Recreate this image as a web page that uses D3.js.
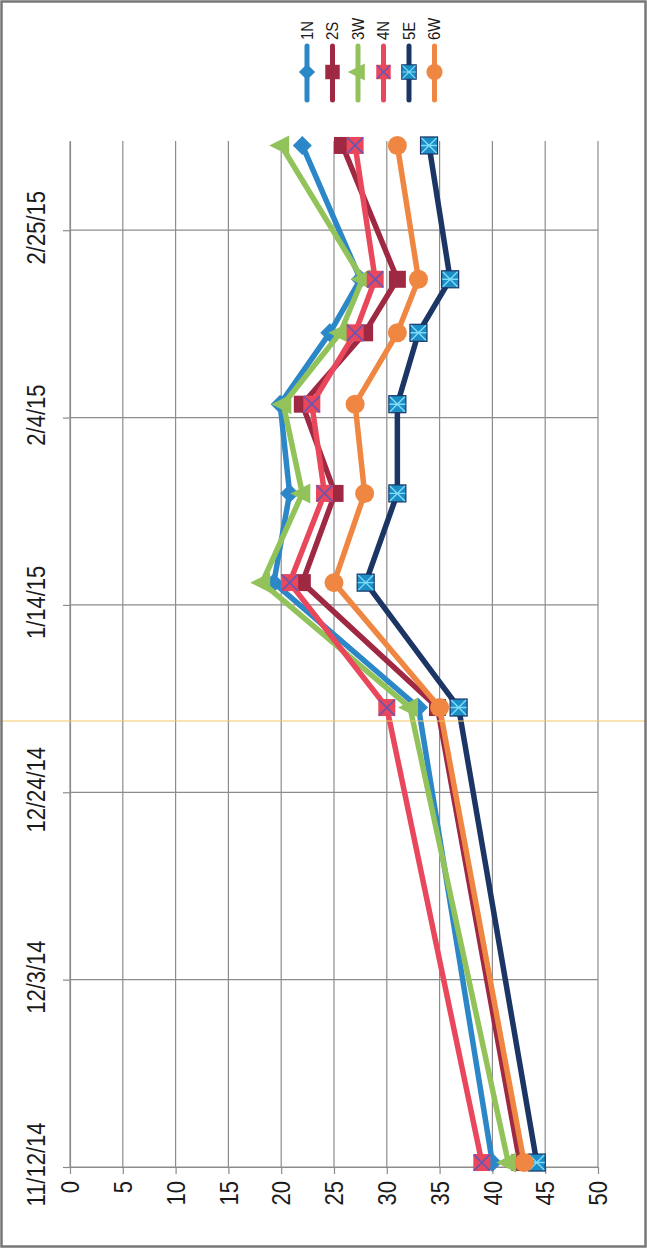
<!DOCTYPE html>
<html>
<head>
<meta charset="utf-8">
<script src="https://cdn.jsdelivr.net/npm/d3@7"></script>
<style>
  body { margin: 0; background: #fff; }
  svg { display: block; }
  text { font-family: "Liberation Sans", Arial, sans-serif; fill: #1a1a1a; }
</style>
</head>
<body>
<div id="graph"></div>
<script>
//sample dates and series values
const sampleDates = ["11/12/14", "1/2/15", "1/16/15", "1/26/15", "2/5/15", "2/13/15", "2/19/15", "3/6/15"];
const series1N = [40, 33, 19.3, 20.8, 19.9, 24.6, 27.5, 22];
const series2S = [42.6, 34.8, 22, 25.1, 22, 27.9, 31, 25.8];
const series3W = [41.5, 32.2, 18.2, 22, 20.2, 25.6, 27.7, 20];
const series4N = [39, 30, 20.8, 24.1, 22.9, 27, 28.9, 27];
const series5E = [44.2, 36.8, 28, 31, 31, 33, 36, 34];
const series6W = [43, 35, 25, 27.9, 27, 31, 33, 31];

const seriesNames = ["1N", "2S", "3W", "4N", "5E", "6W"];
const dateTickLabels = ["11/12/14", "12/3/14", "12/24/14", "1/14/15", "2/4/15", "2/25/15"];
const valueTicks = [0, 5, 10, 15, 20, 25, 30, 35, 40, 45, 50];

//colours and marker types per series
const colors = ["#2c87c8", "#9f2842", "#92c25a", "#e9485c", "#1b3565", "#ef8743"];
const markers = ["diamond", "square", "triangle", "xsquare", "starsquare", "circle"];

const W = 647, H = 1249;
const plotLeft = 70, plotRight = 598, plotTop = 141, plotBottom = 1167;

const parseDate = d3.timeParse("%m/%d/%y");
const dates = sampleDates.map(parseDate);
const tickDates = dateTickLabels.map(parseDate);
const allValues = [series1N, series2S, series3W, series4N, series5E, series6W];

//the chart is printed sideways: values run left to right, dates run bottom to top
const x = d3.scaleLinear().domain([0, 50]).range([plotLeft, plotRight]);
const y = d3.scaleTime()
    .domain([dates[0], d3.timeDay.offset(dates[dates.length - 1], 1)])
    .range([plotBottom, plotTop]);

//points sit in the middle of their day slot
function py(d){ return y(d3.timeHour.offset(d, 12)); }

const svg = d3.select("#graph").append("svg")
    .attr("width", W)
    .attr("height", H);

svg.append("rect").attr("width", W).attr("height", H).attr("fill", "#fff");

//gridlines
const grid = svg.append("g").attr("stroke", "#8c8c8c").attr("stroke-width", 1.2);
grid.selectAll(".vg").data(valueTicks).enter().append("line")
    .attr("x1", function(d){ return x(d); })
    .attr("x2", function(d){ return x(d); })
    .attr("y1", plotTop)
    .attr("y2", plotBottom);
grid.selectAll(".hg").data(tickDates).enter().append("line")
    .attr("x1", plotLeft)
    .attr("x2", plotRight)
    .attr("y1", function(d){ return y(d); })
    .attr("y2", function(d){ return y(d); });

//date axis (left side)
const dateAxis = svg.append("g")
    .attr("transform", "translate(" + plotLeft + ",0)")
    .call(d3.axisLeft(y).tickValues(tickDates).tickSize(7).tickSizeOuter(0)
        .tickFormat(function(d, i){ return dateTickLabels[i]; }));
dateAxis.select(".domain").attr("stroke", "#8c8c8c").attr("stroke-width", 1.2);
dateAxis.selectAll(".tick line").attr("stroke", "#8c8c8c").attr("stroke-width", 1.2);
dateAxis.selectAll(".tick text")
    .attr("x", 0).attr("y", 0).attr("dy", "0.35em")
    .attr("text-anchor", "middle")
    .attr("transform", "translate(-34,-3) rotate(-90) scale(0.88,1)")
    .style("font-size", "25px");

//value axis (bottom)
const valueAxis = svg.append("g")
    .attr("transform", "translate(0," + plotBottom + ")")
    .call(d3.axisBottom(x).tickValues(valueTicks).tickSize(7).tickSizeOuter(0));
valueAxis.select(".domain").attr("stroke", "#8c8c8c").attr("stroke-width", 1.2);
valueAxis.selectAll(".tick line").attr("stroke", "#8c8c8c").attr("stroke-width", 1.2);
valueAxis.selectAll(".tick text")
    .attr("x", 0).attr("y", 0).attr("dy", "0.35em")
    .attr("text-anchor", "end")
    .attr("transform", "translate(0,14) rotate(-90) scale(0.88,1)")
    .style("font-size", "25px");

//marker shapes, drawn around 0,0
function drawMarker(g, type, color){
    if (type === "diamond") {
        g.append("path").attr("d", "M-9.5,0L0,-9.5L9.5,0L0,9.5Z").attr("fill", color);
    } else if (type === "square") {
        g.append("rect").attr("x", -8.5).attr("y", -8.5).attr("width", 17).attr("height", 17).attr("fill", color);
    } else if (type === "triangle") {
        g.append("path").attr("d", "M-12,0L8,-10L8,10Z").attr("fill", color);
    } else if (type === "xsquare") {
        g.append("rect").attr("x", -8.5).attr("y", -8.5).attr("width", 17).attr("height", 17).attr("fill", color);
        g.append("path").attr("d", "M-8,-8L8,8M-8,8L8,-8").attr("stroke", "#6a55b3").attr("stroke-width", 1.7);
    } else if (type === "starsquare") {
        g.append("rect").attr("x", -8.5).attr("y", -8.5).attr("width", 17).attr("height", 17)
            .attr("fill", "#1b8ec8").attr("stroke", color).attr("stroke-width", 1.2);
        g.append("path").attr("d", "M-7.5,-7.5L7.5,7.5M-7.5,7.5L7.5,-7.5M-8,0L8,0").attr("stroke", "#7fdcf6").attr("stroke-width", 1.4);
    } else {
        g.append("circle").attr("r", 9.5).attr("fill", color);
    }
}

//lines and markers
const line = d3.line()
    .x(function(d){ return x(d.v); })
    .y(function(d){ return py(d.date); });

allValues.forEach(function(vals, s){
    const pts = vals.map(function(v, i){ return {date: dates[i], v: v}; });
    const g = svg.append("g");
    g.append("path")
        .datum(pts)
        .attr("d", line)
        .attr("fill", "none")
        .attr("stroke", colors[s])
        .attr("stroke-width", 5.5)
        .attr("stroke-linejoin", "round")
        .attr("stroke-linecap", "round");
    g.selectAll(".m").data(pts).enter().append("g")
        .attr("transform", function(d){ return "translate(" + x(d.v) + "," + py(d.date) + ")"; })
        .each(function(){ drawMarker(d3.select(this), markers[s], colors[s]); });
});

//legend, top right, also sideways
const legend = svg.append("g");
seriesNames.forEach(function(name, i){
    const lx = 307 + 25.5 * i;
    const lg = legend.append("g").attr("transform", "translate(" + lx + ",0)");
    lg.append("line")
        .attr("x1", 0).attr("x2", 0).attr("y1", 46).attr("y2", 100)
        .attr("stroke", colors[i]).attr("stroke-width", 5).attr("stroke-linecap", "round");
    const mg = lg.append("g").attr("transform", "translate(0,72) scale(0.85)");
    drawMarker(mg, markers[i], colors[i]);
    lg.append("text")
        .attr("x", 0).attr("y", 0).attr("dy", "0.35em")
        .attr("text-anchor", "start")
        .attr("transform", "translate(0,40) rotate(-90) scale(0.88,1)")
        .style("font-size", "17px")
        .text(name);
});

//scanner artefact line and page frame
svg.append("line")
    .attr("x1", 0).attr("x2", W).attr("y1", 721).attr("y2", 721)
    .attr("stroke", "#f2c660").attr("stroke-width", 1);
svg.append("rect")
    .attr("x", 1.5).attr("y", 1.5).attr("width", W - 3).attr("height", H - 4)
    .attr("fill", "none").attr("stroke", "#777").attr("stroke-width", 2.5);
</script>
</body>
</html>
